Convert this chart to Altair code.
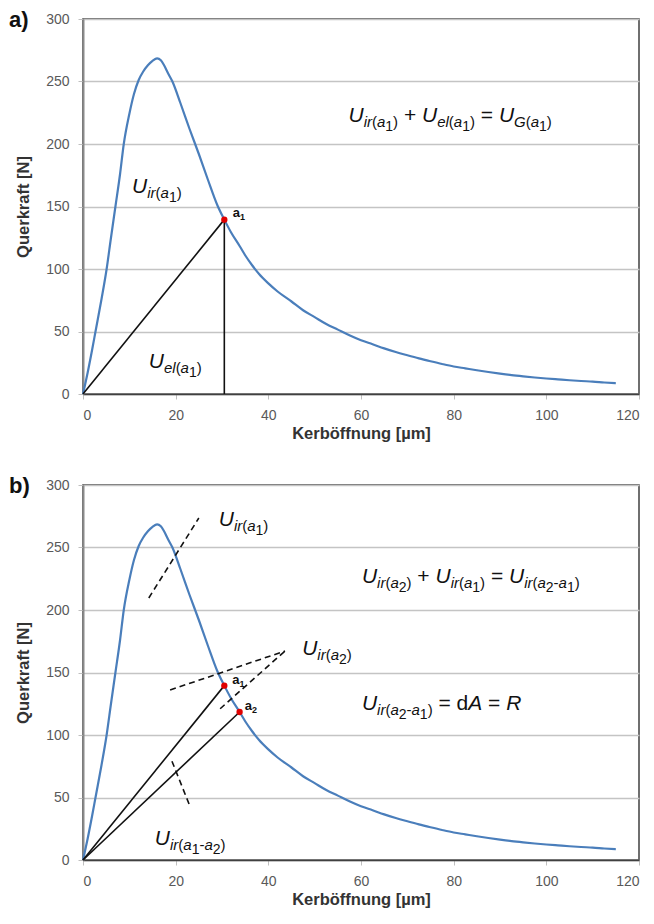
import altair as alt
import pandas as pd

# ---------------- data ----------------
kerb = [0, 1, 2, 2.7, 4, 5.1, 6, 7, 8, 8.8, 10, 11, 12, 13, 14, 15, 16, 16.8,
        17.5, 18.3, 19.3, 21, 23, 25, 27, 29, 30.5, 32, 33.8, 35, 36.5,
        38, 40, 42, 45, 47.5, 50, 52.5, 55, 57.5, 60, 62.5, 65, 67.5, 70, 72.5, 75, 77.5,
        80, 82.5, 85, 87.5, 90, 92.5, 95, 97.5, 100, 102.5, 105, 107.5, 110, 112.5, 115]
kraft = [0, 17, 36, 50, 76, 100, 124, 150, 176, 200, 224, 240, 251, 258, 263, 266.5, 268.5, 267,
         263, 257, 250, 233, 212, 192, 171, 151, 139.5, 129, 118.4, 111, 103,
         96, 88.5, 82, 74, 67, 61.5, 56, 51.5, 47, 43, 39.8, 36.5, 33.6, 31, 28.5, 26.2, 24,
         22, 20.5, 19, 17.6, 16.3, 15.1, 14.1, 13.2, 12.4, 11.7, 11, 10.4, 9.9, 9.2, 8.6]

panel_labels = ["a)", "b)"]

# points a1 / a2
top_pt_x = [30.5]
top_pt_y = [139.5]
bot_pt_x = [30.5, 33.8]
bot_pt_y = [139.5, 118.4]

# solid black lines (x, y, x2, y2)
top_lines_x = [0, 30.5]
top_lines_y = [0, 0]
top_lines_x2 = [30.5, 30.5]
top_lines_y2 = [139.5, 139.5]
bot_lines_x = [0, 0]
bot_lines_y = [0, 0]
bot_lines_x2 = [30.5, 33.8]
bot_lines_y2 = [139.5, 118.4]

# dashed lines in panel b
dash_x = [14.2, 18.8, 29.6, 19.2]
dash_y = [209.6, 136, 121, 79]
dash_x2 = [25.0, 43.6, 43.6, 23.0]
dash_y2 = [273.6, 167.2, 167.2, 43.8]

# ---------------- layout helpers ----------------
W, H = 556, 375
PX_X = W / 120.0
PX_Y = H / 300.0

ARIAL = {"U": .722, "i": .222, "r": .333, "(": .333, ")": .333, "a": .556, "1": .556,
         "2": .556, "e": .556, "l": .222, "G": .778, "+": .584, "=": .584, "-": .333,
         " ": .278, "d": .556, "A": .667, "R": .722}

LV = {"M": (21, 0), "S": (15, 5), "T": (14, 9), "L": (13, 0), "LS": (9, 3)}


def build(x0, y0, parts):
    rows = []
    cur = 0.0
    for text, lv, st in parts:
        size, dy = LV[lv]
        lead = len(text) - len(text.lstrip(" "))
        core = text.strip(" ")
        start = cur + lead * ARIAL[" "] * size
        if core:
            rows.append(dict(t=core, x=x0 + start / PX_X, y=y0 - dy / PX_Y, fs=size, st=st))
        cur += sum(ARIAL[c] for c in text) * size
    return rows


def U(sub):
    """sub: list of (text, level) for the subscript part"""
    p = [("U", "M", "it")]
    for t, lv in sub:
        st = "n" if t.strip() in ("1", "2", "(", ")", "-") else "it"
        p.append((t, lv, st))
    return p


ir1 = [("ir", "S"), ("(", "S"), ("a", "S"), ("1", "T"), (")", "S")]
ir2 = [("ir", "S"), ("(", "S"), ("a", "S"), ("2", "T"), (")", "S")]
el1 = [("el", "S"), ("(", "S"), ("a", "S"), ("1", "T"), (")", "S")]
G1 = [("G", "S"), ("(", "S"), ("a", "S"), ("1", "T"), (")", "S")]
ir21 = [("ir", "S"), ("(", "S"), ("a", "S"), ("2", "T"), ("-", "S"), ("a", "S"), ("1", "T"), (")", "S")]
ir12 = [("ir", "S"), ("(", "S"), ("a", "S"), ("1", "T"), ("-", "S"), ("a", "S"), ("2", "T"), (")", "S")]

top_text = []
top_text += build(10.6, 161, U(ir1))
top_text += build(14.2, 20.6, U(el1))
top_text += build(57.3, 217.7, U(ir1) + [(" + ", "M", "n")] + U(el1) + [(" = ", "M", "n")] + U(G1))
top_text += build(32.3, 141.8, [("a", "L", "b"), ("1", "LS", "b")])

bot_text = []
bot_text += build(29.3, 267, U(ir1))
bot_text += build(47.3, 164.2, U(ir2))
bot_text += build(60.2, 221.6, U(ir2) + [(" + ", "M", "n")] + U(ir1) + [(" = ", "M", "n")] + U(ir21))
bot_text += build(60.2, 120.2, U(ir21) + [(" = d", "M", "n"), ("A", "M", "it"), (" = ", "M", "n"), ("R", "M", "it")])
bot_text += build(15.5, 12, U(ir12))
bot_text += build(32.2, 140.8, [("a", "L", "b"), ("1", "LS", "b")])
bot_text += build(34.9, 120.2, [("a", "L", "b"), ("2", "LS", "b")])

curve_df = pd.DataFrame({"x": kerb, "y": kraft})

XS = alt.Scale(domain=[0, 120], nice=False)
YS = alt.Scale(domain=[0, 300], nice=False)
MATH_FONT = "Liberation Sans"


def panel(label, pts_x, pts_y, lx, ly, lx2, ly2, text_rows, dashed=None):
    xenc = alt.X("x:Q", scale=XS, title="Kerböffnung [µm]",
                 axis=alt.Axis(values=list(range(0, 121, 20)), grid=False,
                               domainColor="#404040", domainWidth=1.5))
    yenc = alt.Y("y:Q", scale=YS, title="Querkraft [N]",
                 axis=alt.Axis(values=list(range(0, 301, 50)), grid=True,
                               domainColor="#8a8a8a", domainWidth=2))
    base_curve = alt.Chart(curve_df).mark_line(color="#4a7ebb", strokeWidth=2.2,
                                               interpolate="monotone").encode(x=xenc, y=yenc)
    ldf = pd.DataFrame({"x": lx, "y": ly, "x2": lx2, "y2": ly2})
    lines = alt.Chart(ldf).mark_rule(color="#111111", strokeWidth=1.6).encode(
        x=alt.X("x:Q", scale=XS), y=alt.Y("y:Q", scale=YS), x2="x2:Q", y2="y2:Q")
    layers = [base_curve, lines]
    if dashed is not None:
        ddf = pd.DataFrame({"x": dashed[0], "y": dashed[1], "x2": dashed[2], "y2": dashed[3]})
        layers.append(alt.Chart(ddf).mark_rule(color="#111111", strokeWidth=1.6,
                                               strokeDash=[6, 4]).encode(
            x=alt.X("x:Q", scale=XS), y=alt.Y("y:Q", scale=YS), x2="x2:Q", y2="y2:Q"))
    pdf = pd.DataFrame({"x": pts_x, "y": pts_y})
    layers.append(alt.Chart(pdf).mark_circle(color="#e00000", opacity=1, size=40).encode(
        x=alt.X("x:Q", scale=XS), y=alt.Y("y:Q", scale=YS)))
    tdf = pd.DataFrame(text_rows)
    styles = {"it": dict(fontStyle="italic", fontWeight="normal"),
              "n": dict(fontStyle="normal", fontWeight="normal"),
              "b": dict(fontStyle="normal", fontWeight="bold")}
    for st, kw in styles.items():
        sub = tdf[tdf["st"] == st]
        if len(sub) == 0:
            continue
        layers.append(alt.Chart(sub).mark_text(align="left", baseline="alphabetic",
                                               font=MATH_FONT, color="#111111", **kw).encode(
            x=alt.X("x:Q", scale=XS), y=alt.Y("y:Q", scale=YS), text="t:N",
            size=alt.Size("fs:Q", scale=None, legend=None)))
    lab = alt.Chart(pd.DataFrame({"t": [label]})).mark_text(
        align="left", baseline="alphabetic", font=MATH_FONT, fontWeight="bold",
        fontSize=22, color="#111111").encode(
        x=alt.value(-74), y=alt.value(8), text="t:N")
    layers.append(lab)
    return alt.layer(*layers).properties(width=W, height=H)


top = panel(panel_labels[0], top_pt_x, top_pt_y, top_lines_x, top_lines_y,
            top_lines_x2, top_lines_y2, top_text)
bottom = panel(panel_labels[1], bot_pt_x, bot_pt_y, bot_lines_x, bot_lines_y,
               bot_lines_x2, bot_lines_y2, bot_text,
               dashed=(dash_x, dash_y, dash_x2, dash_y2))

chart = alt.vconcat(top, bottom, spacing=31).properties(
    padding={"left": 0, "top": 0, "right": 5, "bottom": 5}
).configure_view(stroke="#404040", strokeWidth=1.5).configure_axis(
    labelFont="Liberation Sans", labelFontSize=14, labelColor="#595959",
    titleFont="Liberation Sans", titleFontSize=16.5, titleFontWeight="bold",
    titleColor="#333333", ticks=True, tickSize=5, tickColor="#bfbfbf",
    gridColor="#c4c4c4", gridWidth=1.5, labelPadding=9
).configure_axisX(titlePadding=3).configure_axisY(titlePadding=14)

chart.save("out.html", embed_options={"renderer": "svg", "actions": False})
